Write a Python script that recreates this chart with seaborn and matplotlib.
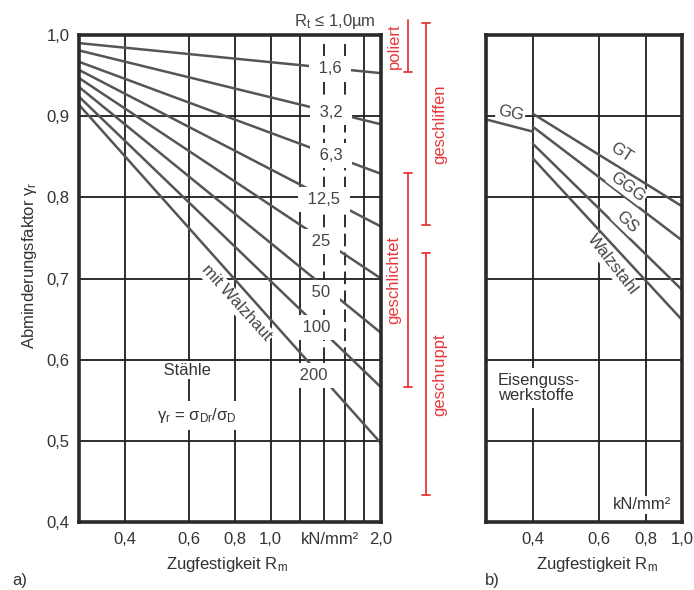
import numpy as np
import pandas as pd
import matplotlib
matplotlib.use("Agg")
import matplotlib.pyplot as plt
import matplotlib.transforms as mtransforms
import seaborn as sns

# --- a) Stähle: Abminderungsfaktor je Rauheit Rt (µm), Gerade zwischen Rm = 0,3 und 2,0
rt_labels = ["1,6", "3,2", "6,3", "12,5", "25", "50", "100", "200"]
rm_steel = [0.3, 2.0]
gamma_rm03 = [0.990, 0.981, 0.967, 0.957, 0.947, 0.936, 0.924, 0.914]
gamma_rm20 = [0.953, 0.890, 0.829, 0.764, 0.700, 0.633, 0.566, 0.497]

# --- b) Eisengusswerkstoffe
cast_labels = ["GG", "GT", "GGG", "GS", "Walzstahl"]
cast_rm = [[0.3, 0.4], [0.4, 1.0], [0.4, 1.0], [0.4, 1.0], [0.4, 1.0]]
cast_gamma = [[0.896, 0.881], [0.903, 0.789], [0.887, 0.747],
              [0.866, 0.686], [0.848, 0.649]]

# Bearbeitungsbereiche (rote Klammern rechts von a)
finish_names = ["poliert", "geschliffen", "geschlichtet", "geschruppt"]
finish_top = [1.0185, 1.015, 0.830, 0.731]
finish_bottom = [0.954, 0.766, 0.566, 0.433]

y_ticks = [0.4, 0.5, 0.6, 0.7, 0.8, 0.9, 1.0]
y_ticklabels = ["0,4", "0,5", "0,6", "0,7", "0,8", "0,9", "1,0"]
xa_ticks = [0.4, 0.6, 0.8, 1.0, 1.45, 2.0]
xa_ticklabels = ["0,4", "0,6", "0,8", "1,0", "kN/mm²", "2,0"]
xb_ticks = [0.4, 0.6, 0.8, 1.0]
xb_ticklabels = ["0,4", "0,6", "0,8", "1,0"]

GRID = "#1e1e1e"
CURVE = "#555555"
TXT = "#333333"
RED = "#e5383b"

sns.set_theme(style="white")
plt.rcParams["font.family"] = ["Liberation Sans", "DejaVu Sans"]
plt.rcParams["mathtext.fontset"] = "custom"
plt.rcParams["mathtext.rm"] = "Liberation Sans"
plt.rcParams["mathtext.it"] = "Liberation Sans:italic"

fig = plt.figure(figsize=(6.94, 5.90), dpi=100)
W, H = 694, 590
ax_a = fig.add_axes([79 / W, 1 - 522 / H, 302 / W, 487 / H])
ax_b = fig.add_axes([486 / W, 1 - 522 / H, 196 / W, 487 / H])

gap_box = dict(boxstyle="square,pad=0.3", fc="white", ec="none")
small_box = dict(boxstyle="square,pad=0.1", fc="white", ec="none")

# ---------- panel a
df_a = pd.DataFrame({
    "Rm": np.tile(rm_steel, len(rt_labels)),
    "gamma": np.ravel(np.column_stack([gamma_rm03, gamma_rm20])),
    "Rt": np.repeat(rt_labels, 2),
})
for g in y_ticks[1:-1]:
    ax_a.axhline(g, color=GRID, lw=1.3, zorder=1)
for x in [0.4, 0.6, 0.8, 1.0, 1.2, 1.8]:
    ax_a.axvline(x, color=GRID, lw=1.3, zorder=1)
for x in [1.4, 1.6]:
    ax_a.vlines(x, 0.6, 0.99, color=GRID, lw=1.3, linestyles=(0, (7, 3.5)), zorder=1)
    ax_a.vlines(x, 0.4, 0.6, color=GRID, lw=1.3, zorder=1)

sns.lineplot(data=df_a, x="Rm", y="gamma", hue="Rt", hue_order=rt_labels,
             palette=[CURVE] * len(rt_labels), lw=1.8, legend=False,
             ax=ax_a, zorder=2)
ax_a.set_xscale("log")
ax_a.set_xlim(0.3, 2.0)
ax_a.set_ylim(0.4, 1.0)

# Rt-Beschriftung in der Spalte zwischen den gestrichelten Linien
label_pos = [(1.45, 0.959), (1.46, 0.904), (1.46, 0.852), (1.40, 0.797),
             (1.37, 0.745), (1.37, 0.683), (1.33, 0.640), (1.31, 0.581)]
for lab, (xr, gy) in zip(rt_labels, label_pos):
    ax_a.text(xr, gy, " " + lab + " ", ha="center", va="center", fontsize=12,
              color="#444444", bbox=gap_box, zorder=5)
ax_a.text(0.848, 1.027, "R$_\\mathregular{t}$ ≤ 1,0µm", transform=ax_a.transAxes,
          ha="center", va="center", fontsize=12, color="#444444")
ax_a.text(0.520, 0.450, "mit Walzhaut", transform=ax_a.transAxes, rotation=-48,
          rotation_mode="anchor", ha="center", va="center", fontsize=12,
          color="#444444", bbox=small_box, zorder=5)
ax_a.text(0.358, 0.312, " Stähle ", transform=ax_a.transAxes, ha="center",
          va="center", fontsize=12, color=TXT, bbox=small_box, zorder=5)
ax_a.text(0.391, 0.218, "γ$_\\mathregular{r}$ = σ$_\\mathregular{Dr}$/σ$_\\mathregular{D}$",
          transform=ax_a.transAxes, ha="center", va="center", fontsize=12,
          color=TXT, bbox=gap_box, zorder=5)

# rote Klammern
tr = mtransforms.blended_transform_factory(ax_a.transAxes, ax_a.transData)
bx = [1.089, 1.149, 1.089, 1.149]
tx = [1.043, 1.195, 1.043, 1.195]
for i, (name, top, bot) in enumerate(zip(finish_names, finish_top, finish_bottom)):
    ax_a.plot([bx[i], bx[i]], [top, bot], color=RED, lw=1.3, transform=tr, clip_on=False)
    ends = [bot] if i == 0 else [top, bot]
    for e in ends:
        ax_a.plot([bx[i] - 0.014, bx[i] + 0.014], [e, e], color=RED, lw=1.3,
                  transform=tr, clip_on=False)
    ax_a.text(tx[i], (top + bot) / 2, name, rotation=90, ha="center", va="center",
              fontsize=12, color=RED, transform=tr)

# ---------- panel b
df_b = pd.DataFrame({
    "Rm": np.ravel(cast_rm),
    "gamma": np.ravel(cast_gamma),
    "Werkstoff": np.repeat(cast_labels, 2),
})
for g in y_ticks[1:-1]:
    ax_b.axhline(g, color=GRID, lw=1.3, zorder=1)
for x in [0.4, 0.6, 0.8]:
    ax_b.axvline(x, color=GRID, lw=1.3, zorder=1)
sns.lineplot(data=df_b, x="Rm", y="gamma", hue="Werkstoff", hue_order=cast_labels,
             palette=[CURVE] * len(cast_labels), lw=1.8, legend=False,
             ax=ax_b, zorder=2)
ax_b.set_xscale("log")
ax_b.set_xlim(0.3, 1.0)
ax_b.set_ylim(0.4, 1.0)

cast_label_pos = [(0.349, 0.903, -12), (0.689, 0.855, -33), (0.716, 0.813, -37),
                  (0.711, 0.770, -44), (0.652, 0.717, -52)]
for lab, (xr, gy, rot) in zip(cast_labels, cast_label_pos):
    ax_b.text(xr, gy, lab, rotation=rot, rotation_mode="anchor", ha="center",
              va="center", fontsize=12, color="#444444", bbox=small_box, zorder=5)
ax_b.text(0.061, 0.275, "Eisenguss-\nwerkstoffe", transform=ax_b.transAxes,
          ha="left", va="center", fontsize=12, color=TXT, linespacing=1.05,
          bbox=gap_box, zorder=5)
ax_b.text(0.796, 0.035, "kN/mm²", transform=ax_b.transAxes, ha="center",
          va="center", fontsize=12, color=TXT, bbox=small_box, zorder=5)

# ---------- Achsen
for ax, xt, xl in [(ax_a, xa_ticks, xa_ticklabels), (ax_b, xb_ticks, xb_ticklabels)]:
    ax.minorticks_off()
    ax.set_xticks(xt)
    ax.set_xticklabels(xl)
    ax.set_xlabel("")
    ax.set_ylabel("")
    ax.tick_params(length=0, pad=7, labelsize=12, colors=TXT)
    for sp in ax.spines.values():
        sp.set_color("#2a2a2a")
        sp.set_linewidth(2.6)
        sp.set_zorder(6)
ax_a.set_yticks(y_ticks)
ax_a.set_yticklabels(y_ticklabels)
ax_b.set_yticks([])

fig.text(30 / W, 1 - 265 / H, "Abminderungsfaktor γ$_\\mathregular{r}$", rotation=90,
         ha="center", va="center", fontsize=12, color=TXT)
fig.text(227 / W, 1 - 565 / H, "Zugfestigkeit R$_\\mathregular{m}$", ha="center",
         va="center", fontsize=12, color=TXT)
fig.text(597 / W, 1 - 565 / H, "Zugfestigkeit R$_\\mathregular{m}$", ha="center",
         va="center", fontsize=12, color=TXT)
fig.text(20 / W, 1 - 580 / H, "a)", ha="center", va="center", fontsize=12, color=TXT)
fig.text(492 / W, 1 - 580 / H, "b)", ha="center", va="center", fontsize=12, color=TXT)

fig.savefig("out.png", dpi=100)
